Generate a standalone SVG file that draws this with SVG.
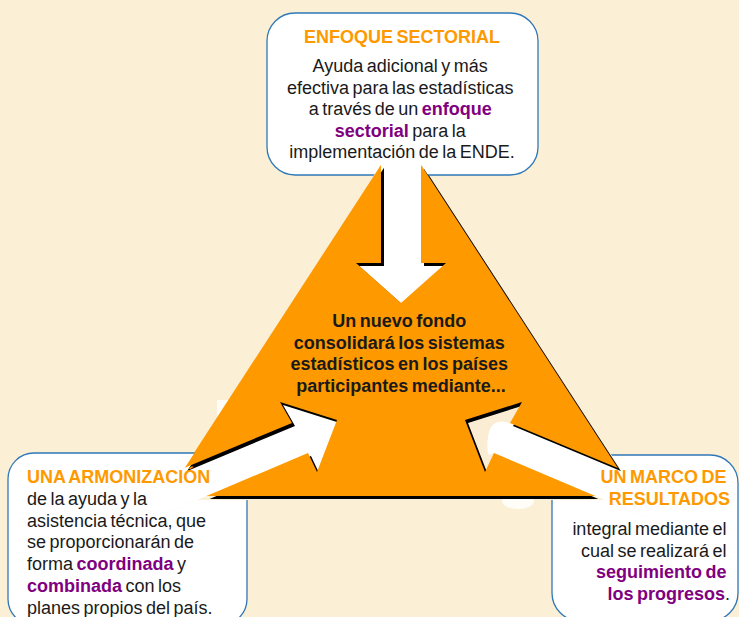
<svg xmlns="http://www.w3.org/2000/svg" width="739" height="617" viewBox="0 0 739 617">
<defs>
<style>
.t{font-family:"Liberation Sans",Arial,sans-serif;font-size:18px;fill:#1a1a1a;word-spacing:-1.5px}
.b{font-weight:bold}
.ttl{font-weight:bold;fill:#FF9900}
.pur{font-weight:bold;fill:#800080}
.box{fill:#ffffff;stroke:#2F78B8;stroke-width:1.3}
.arrow{fill:#ffffff}
</style>
<mask id="holes" maskUnits="userSpaceOnUse" x="-20" y="-20" width="780" height="660">
<rect x="-20" y="-20" width="780" height="660" fill="#fff"/>
<polygon points="381,100 421,100 421,263 446,263 401,303 356,263 381,263" fill="#000"/>
<polygon points="337,420 280,402 292,423 110,499 110,537 308,453 317,472" fill="#000"/>
<polygon points="465,420 522,402 510,423 692,499 692,537 494,453 485,472" fill="#000"/>
</mask>
<mask id="notTri" maskUnits="userSpaceOnUse" x="-20" y="-20" width="780" height="660">
<rect x="-20" y="-20" width="780" height="660" fill="#fff"/>
<polygon points="380.5,165 421.5,165 641,500 164,500" fill="#000"/>
<polygon points="381,164 421,164 421,263 446,263 401,303 356,263 381,263" fill="#000"/>
<polygon points="337,420 280,402 292,423 110,499 110,537 308,453 317,472" fill="#000"/>
<polygon points="465,420 522,402 510,423 692,499 692,537 494,453 485,472" fill="#000"/>
</mask>
</defs>

<g id="background">
<rect x="0" y="0" width="739" height="617" fill="#FBEFD6"/>
<rect x="217" y="400" width="40" height="60" fill="#FFFDF8"/>
<ellipse cx="518" cy="501" rx="16" ry="8" fill="#FFFDF8"/>
</g>

<g id="connectors">
<polygon class="arrow" points="381,164 421,164 421,263 446,263 401,303 356,263 381,263"/>
<polygon class="arrow" points="337,420 280,402 292,423 110,499 110,537 308,453 317,472"/>
<polygon class="arrow" points="465,420 522,402 510,423 692,499 692,537 494,453 485,472"/>
<path d="M455,425 L530,395 L512,424 C500,419 492,422 489,432 C487,440 487,448 488,455 L494,453 L492,480 L470,480 Z" fill="#FBECD4"/>
</g>

<g id="node-center">
<g transform="translate(3,3)">
<polygon points="401,134 636,496 166,496" fill="#000" mask="url(#holes)"/>
</g>
<polygon points="401,134 636,496 166,496" fill="#FF9900" mask="url(#holes)"/>
<text class="t b" text-anchor="middle">
<tspan x="401" y="327">Un nuevo fondo</tspan>
<tspan x="401" y="348.5">consolidará los sistemas</tspan>
<tspan x="401" y="370">estadísticos en los países</tspan>
<tspan x="401" y="391.5">participantes mediante...</tspan>
</text>
</g>

<g id="node-top">
<rect class="box" x="267" y="13" width="271" height="162" rx="28" mask="url(#notTri)"/>
<text class="t ttl" x="402" y="43" text-anchor="middle">ENFOQUE SECTORIAL</text>
<text class="t" text-anchor="middle">
<tspan x="402" y="72">Ayuda adicional y más</tspan>
<tspan x="402" y="93.5">efectiva para las estadísticas</tspan>
<tspan x="402" y="115">a través de un <tspan class="pur">enfoque</tspan></tspan>
<tspan x="402" y="136.5"><tspan class="pur">sectorial</tspan> para la</tspan>
<tspan x="402" y="158">implementación de la ENDE.</tspan>
</text>
</g>

<g id="node-left">
<rect class="box" x="8" y="453" width="239" height="172" rx="26" mask="url(#notTri)"/>
<text class="t ttl" x="27" y="483">UNA ARMONIZACIÓN</text>
<text class="t">
<tspan x="27" y="504.5">de la ayuda y la</tspan>
<tspan x="27" y="526.5">asistencia técnica, que</tspan>
<tspan x="27" y="548">se proporcionarán de</tspan>
<tspan x="27" y="570">forma <tspan class="pur">coordinada</tspan> y</tspan>
<tspan x="27" y="592"><tspan class="pur">combinada</tspan> con los</tspan>
<tspan x="27" y="613.5">planes propios del país.</tspan>
</text>
</g>

<g id="node-right">
<rect class="box" x="552" y="455" width="186" height="166" rx="28" mask="url(#notTri)"/>
<text class="t ttl" text-anchor="end">
<tspan x="730" y="483">UN MARCO DE</tspan>
<tspan x="730" y="505">RESULTADOS</tspan>
</text>
<text class="t" text-anchor="end">
<tspan x="730" y="535">integral mediante el</tspan>
<tspan x="730" y="556.5">cual se realizará el</tspan>
<tspan x="730" y="578" class="pur">seguimiento de</tspan>
<tspan x="730" y="599.5"><tspan class="pur">los progresos</tspan>.</tspan>
</text>
</g>
</svg>
